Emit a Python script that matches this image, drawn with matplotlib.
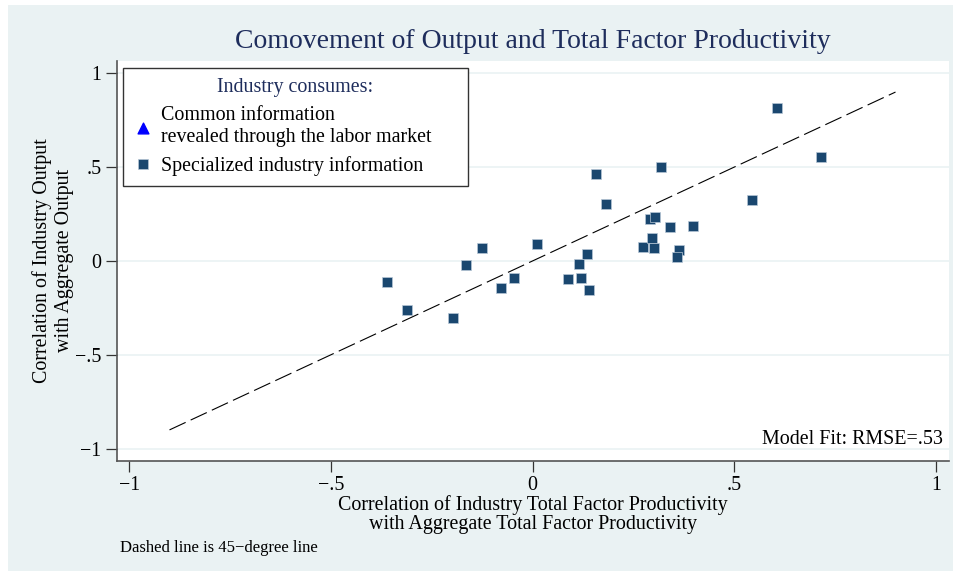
import matplotlib.pyplot as plt
from matplotlib.patches import Rectangle

# ------------------------------------------------------------
# Data
# ------------------------------------------------------------
# industries with specialized information (x = TFP correlation, y = output correlation)
special_x = [-0.361, -0.312, -0.196, -0.166, -0.126, -0.079, -0.047, 0.010,
             0.087, 0.121, 0.116, 0.134, 0.141, 0.158, 0.181, 0.275,
             0.292, 0.304, 0.297, 0.300, 0.342, 0.364, 0.359, 0.399,
             0.319, 0.606, 0.715, 0.545]
special_y = [-0.111, -0.262, -0.305, -0.021, 0.070, -0.144, -0.091, 0.091,
             -0.096, -0.091, -0.016, 0.037, -0.155, 0.465, 0.305, 0.075,
             0.225, 0.235, 0.123, 0.070, 0.182, 0.059, 0.021, 0.187,
             0.503, 0.813, 0.556, 0.326]

# no industries shown for the "common information" group
common_x = []
common_y = []

# 45-degree reference line end points
line45 = [-0.9, 0.9]

x_ticks = [-1, -0.5, 0, 0.5, 1]
x_tick_labels = ["\u22121", "\u2212.5", "0", ".5", "1"]
y_ticks = [-1, -0.5, 0, 0.5, 1]
y_tick_labels = ["\u22121", "\u2212.5", "0", ".5", "1"]

# ------------------------------------------------------------
# Style
# ------------------------------------------------------------
plt.rcParams["font.family"] = ["Liberation Serif", "DejaVu Serif"]
bg = "#EAF2F3"
navy = "#1A476F"
title_col = "#1E2D5C"
fs = 14.4

fig = plt.figure(figsize=(9.54, 5.77), dpi=100)
fig.patch.set_facecolor("white")
# light outer panel (Stata-like)
fig.patches.append(Rectangle((8 / 954, 1 - 571 / 577), 946 / 954, 566 / 577,
                             transform=fig.transFigure, facecolor=bg,
                             edgecolor="none", zorder=-10))

ax = fig.add_axes([0.1223, 0.2016, 0.8722, 0.6932])
ax.set_facecolor("white")

# gridlines
ax.set_yticks(y_ticks)
ax.set_yticklabels(y_tick_labels)
ax.set_xticks(x_ticks)
ax.set_xticklabels(x_tick_labels)
ax.yaxis.grid(True, color=bg, linewidth=1.2)
ax.set_axisbelow(True)

# 45-degree line
ax.plot(line45, line45, color="black", linewidth=0.8, dashes=(16, 5), zorder=2)

# data
ax.scatter(common_x, common_y, marker="^", color="#0000FF", s=60,
           label="Common information\nrevealed through the labor market")
ax.plot(special_x, special_y, linestyle="none", marker="s", markersize=7.5,
        markerfacecolor=navy, markeredgecolor="#B7C7D6", markeredgewidth=0.5,
        label="Specialized industry information", zorder=3)

ax.set_xlim(-1.031, 1.032)
ax.set_ylim(-1.064, 1.067)

for side in ["top", "right"]:
    ax.spines[side].set_visible(False)
for side in ["left", "bottom"]:
    ax.spines[side].set_color("#555555")
    ax.spines[side].set_linewidth(1.2)

ax.tick_params(axis="both", direction="out", length=8, width=0.9,
               color="#333333", labelsize=fs, pad=3)

ax.set_xlabel("Correlation of Industry Total Factor Productivity\n"
              "with Aggregate Total Factor Productivity",
              fontsize=fs, linespacing=1.02, labelpad=0)
ax.set_ylabel("Correlation of Industry Output\nwith Aggregate Output",
              fontsize=fs, linespacing=1.2, labelpad=1)

ax.set_title("Comovement of Output and Total Factor Productivity",
             fontsize=20, color=title_col, pad=9)

leg = ax.legend(loc="upper left", bbox_to_anchor=(0.0076, 0.702, 0.4147, 0.28),
                mode="expand", borderaxespad=0, fancybox=False,
                edgecolor="#333333", framealpha=1, fontsize=fs,
                title="Industry consumes:", title_fontsize=fs,
                handletextpad=0.4, handlelength=1.0, borderpad=0.5,
                labelspacing=0.45, markerscale=1.0)
leg.get_title().set_color(title_col)
leg.get_frame().set_linewidth(1.0)

ax.text(0.993, 0.028, "Model Fit: RMSE=.53", transform=ax.transAxes,
        ha="right", va="bottom", fontsize=fs)

fig.text(120 / 954, 1 - 548 / 577, "Dashed line is 45\u2212degree line",
         fontsize=12, va="center", ha="left")

fig.savefig("out.png", dpi=100, facecolor=fig.get_facecolor())
